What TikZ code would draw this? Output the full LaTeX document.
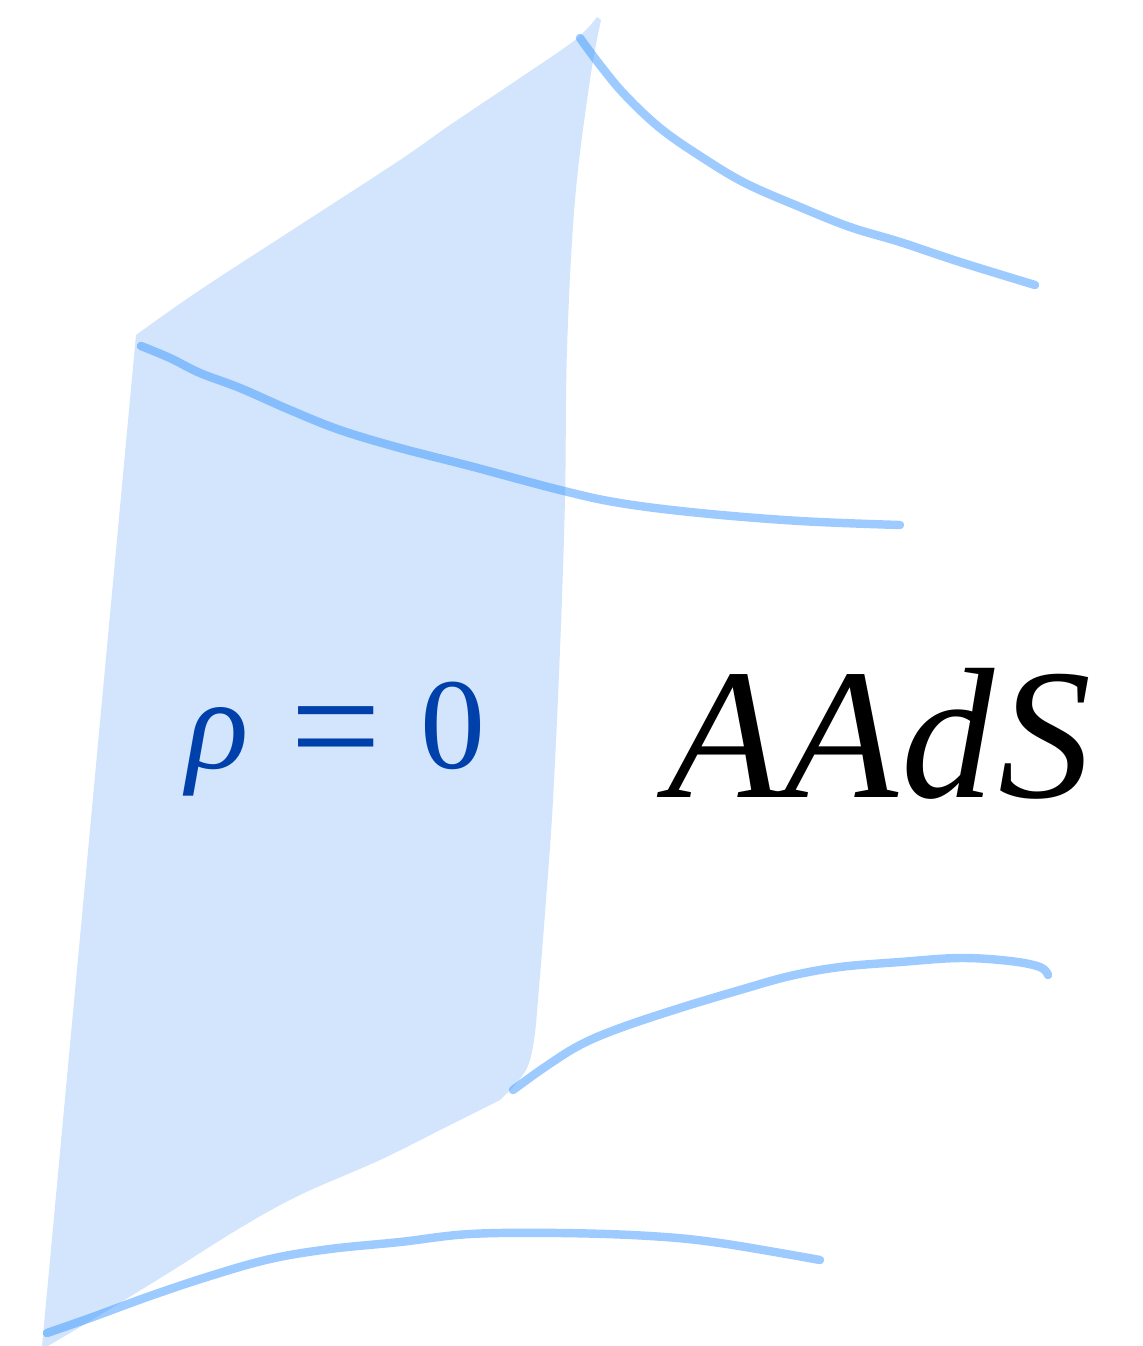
\documentclass[tikz,border=0pt]{standalone}
\usepackage{fontspec}
\setmainfont{Liberation Serif}
\usepackage{tikz}
\usetikzlibrary{calc}

\definecolor{surfblue}{RGB}{210,229,252}
\definecolor{lineblue}{RGB}{60,150,255}
\definecolor{labelblue}{RGB}{0,64,170}

\begin{document}
\begin{tikzpicture}[x=0.02cm, y=-0.02cm, line cap=round, line join=round]

% cornice (proporzioni del riferimento)
\useasboundingbox (0,0) rectangle (1143,1346);

% superficie rho = 0
\fill[surfblue]
  plot[smooth, tension=0.6] coordinates {(136,335) (200,290) (300,225) (400,160) (450,125) (520,78) (575,40) (597,17)}
  -- plot[smooth, tension=0.6] coordinates {(601,20) (590,80) (575,200) (567,350) (565,500) (560,650) (553,800) (546,900) (538,1000) (534,1040) (527,1068) (512,1088)}
  -- plot[smooth, tension=0.6] coordinates {(500,1100) (450,1125) (380,1160) (300,1195) (240,1228) (170,1272) (100,1315) (48,1346)}
  -- (42,1346) -- cycle;

% linee
\tikzset{sheet/.style={lineblue, opacity=0.5, line width=4.8pt}}

\draw[sheet] plot[smooth, tension=0.6] coordinates
  {(580,38) (600,65) (625,95) (660,128) (700,156) (745,183) (800,207) (850,227) (900,242) (960,262) (1035,285)};

\draw[sheet] plot[smooth, tension=0.6] coordinates
  {(141,346) (170,358) (200,373) (240,388) (290,410) (340,430) (400,448) (470,466) (560,490) (620,503) (700,513) (800,521) (900,525)};

\draw[sheet] plot[smooth, tension=0.6] coordinates
  {(513,1090) (545,1067) (580,1045) (620,1028) (680,1008) (740,990) (790,976) (840,967) (900,962) (960,958) (1010,961) (1040,967) (1048,975)};

\draw[sheet] plot[smooth, tension=0.6] coordinates
  {(47,1333) (90,1318) (150,1296) (210,1276) (270,1259) (330,1249) (400,1242) (470,1234) (560,1233) (650,1236) (720,1243) (820,1260)};

% etichette
\node[labelblue, anchor=base west, inner sep=0pt, font=\fontsize{74}{80}\selectfont]
  (rho) at (186,768) {\itshape ρ\upshape\hspace{24pt}\raisebox{-7pt}{\fontsize{92}{92}\selectfont =}\hspace{22pt}0};
\node[anchor=base west, inner sep=0pt, font=\fontsize{106}{110}\selectfont\itshape]
  (aads) at (667,797) {A\kern2pt A\kern2pt d\kern2pt S};

\end{tikzpicture}
\end{document}
